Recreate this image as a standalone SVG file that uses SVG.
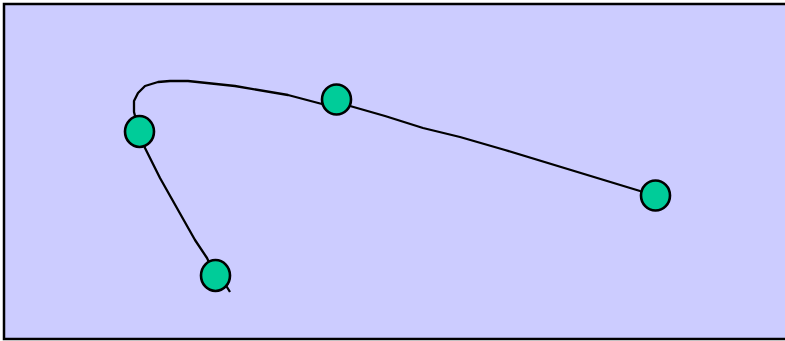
<svg xmlns="http://www.w3.org/2000/svg" width="785" height="341" viewBox="0 0 785 341">
<style>
.node{fill:#00CC99;stroke:#000;stroke-width:2.6}
.edge{fill:none;stroke:#000;stroke-width:2.3;stroke-linejoin:round;stroke-linecap:butt}
</style>
<rect x="4" y="4" width="800" height="335" fill="#CCCCFF" stroke="#000" stroke-width="2.5"/>
<g id="connectors">
<path class="edge" d="M230,292 L222,279 L215,275 L207,258 L195,240 L182,217 L160,178 L145,148 L139,131 L134,112 L134,101 L138,93 L145,86 L158,82 L170,81 L188,81 L235,86 L288,95 L322,104 L336,99 L350,106 L385,116 L423,128 L460,137 L505,150 L640,191 L655,195"/>
</g>
<g id="node1"><ellipse class="node" cx="139.5" cy="131.5" rx="14.5" ry="15.5"/></g>
<g id="node2"><ellipse class="node" cx="336.5" cy="99.5" rx="14.5" ry="15"/></g>
<g id="node3"><ellipse class="node" cx="655.5" cy="195.5" rx="14.5" ry="15"/></g>
<g id="node4"><ellipse class="node" cx="215.5" cy="275.5" rx="14.5" ry="15.5"/></g>
</svg>
